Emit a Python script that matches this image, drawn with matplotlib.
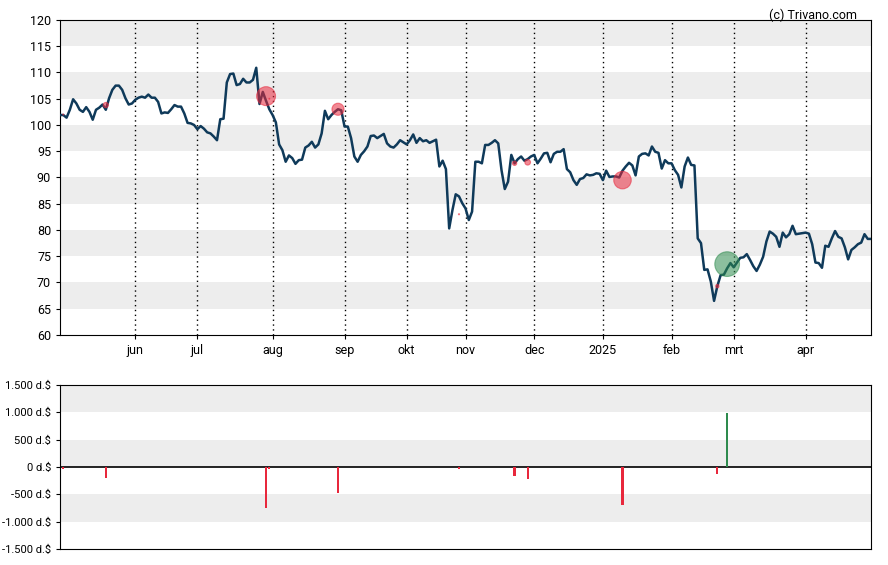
import matplotlib.pyplot as plt
import numpy as np

plt.rcParams['font.family'] = ['Roboto', 'DejaVu Sans']

#------------------------------------------ data -----------------------------------------------------------

prices = [
    101.9, 101.9, 101.4, 102.9, 104.9, 104.1, 102.9, 102.5, 103.4, 102.5,
    101.0, 102.9, 103.3, 103.9, 102.9, 105.1, 106.7, 107.5, 107.5, 106.7,
    105.1, 103.9, 104.1, 104.8, 105.2, 105.4, 105.2, 105.8, 105.2, 105.2,
    104.4, 102.2, 102.4, 102.3, 103.0, 103.8, 103.5, 103.5, 102.2, 100.4,
    100.3, 100.0, 99.2, 99.8, 99.3, 98.6, 98.4, 97.8, 97.1, 101.1,
    101.2, 108.1, 109.7, 109.8, 107.6, 107.8, 108.8, 108.1, 108.1, 108.6,
    110.9, 104.0, 106.3, 104.6, 103.0, 101.9, 100.5, 96.3, 95.2, 93.0,
    94.2, 93.7, 92.6, 93.3, 93.4, 95.7, 96.1, 96.8, 95.7, 96.3,
    98.4, 102.7, 101.1, 101.9, 102.5, 103.0, 102.8, 99.7, 99.7, 97.5,
    94.0, 93.0, 94.3, 95.0, 95.9, 97.9, 98.0, 97.5, 97.9, 98.3,
    96.5, 95.9, 95.7, 96.3, 97.1, 96.7, 96.3, 97.1, 98.2, 96.6,
    97.5, 96.9, 97.1, 96.6, 96.9, 97.2, 92.1, 93.2, 91.6, 80.3,
    83.8, 86.8, 86.4, 85.1, 84.1, 81.9, 83.5, 93.0, 93.0, 92.7,
    96.2, 96.2, 96.6, 97.1, 96.5, 91.4, 87.8, 89.2, 94.3, 92.7,
    93.5, 94.0, 93.2, 93.5, 94.0, 94.3, 92.7, 93.6, 94.6, 94.7,
    92.9, 94.5, 94.9, 94.9, 95.4, 91.6, 91.0, 89.5, 88.6, 89.7,
    89.9, 90.6, 90.4, 90.5, 90.8, 90.7, 89.5, 91.3, 90.1, 90.2,
    90.2, 90.0, 91.3, 92.1, 92.8, 92.3, 90.4, 94.0, 94.5, 94.6,
    94.2, 95.9, 94.9, 94.7, 91.7, 93.3, 92.7, 92.7, 91.4, 90.5,
    88.1, 92.1, 93.8, 92.4, 92.3, 78.4, 77.5, 72.4, 72.5, 70.2,
    66.5, 69.3, 71.4, 71.5, 72.7, 73.7, 72.9, 73.8, 74.7, 74.8,
    75.4, 74.3, 73.1, 72.2, 73.4, 74.9, 77.8, 79.7, 79.3, 78.7,
    76.8, 79.5, 78.6, 79.2, 80.8, 79.2, 79.3, 79.4, 79.5, 79.3,
    77.3, 73.8, 73.7, 72.8, 77.0, 76.8, 78.4, 79.8, 78.7, 78.4,
    76.7, 74.4, 76.2, 76.7, 77.3, 77.6, 79.2, 78.3, 78.3,
]

monthIndex = [23, 42, 65, 87, 106, 124, 145, 166, 187, 206, 228]
monthLabels = ["jun", "jul", "aug", "sep", "okt", "nov", "dec", "2025", "feb", "mrt", "apr"]

# insider trades: day index, trade price, value in thousands of dollars
tradeIndex = [1, 14, 63, 64, 85, 122, 139, 143, 172, 201, 204]
tradePrice = [102.0, 103.8, 105.5, 105.0, 103.0, 83.0, 92.7, 92.9, 89.5, 69.3, 73.5]
tradeValue = [-37, -208, -757, -37, -483, -44, -171, -226, -701, -134, 988]

#------------------------------------------ chart -----------------------------------------------------------

lineColor = "#0f3a5a"
red = "#e8283c"
green = "#2e8b4e"
band = "#ededed"

fig = plt.figure(figsize=(8.88, 5.65), dpi=100)
ax = fig.add_axes([0.0676, 0.4071, 0.9133, 0.5575])
ax2 = fig.add_axes([0.0676, 0.0283, 0.9133, 0.2903])

days = np.arange(len(prices))

for low in range(65, 120, 10):
    ax.axhspan(low, low + 5, color=band, zorder=0, lw=0)
for m in monthIndex:
    ax.axvline(m, color="black", lw=1, ls=(0, (1, 2.5)), zorder=1)

ax.plot(days, prices, color=lineColor, lw=1.8, zorder=3)

tradeColors = [green if v > 0 else red for v in tradeValue]
sizes = [(2 * abs(v) * 0.0125 * 0.72) ** 2 for v in tradeValue]
ax.scatter(tradeIndex, tradePrice, s=sizes, c=tradeColors, alpha=0.55, lw=0.8,
           edgecolors=tradeColors, zorder=4)

ax.set_xlim(0, len(prices) - 1)
ax.set_ylim(60, 120)
ax.set_yticks(range(60, 121, 5))
ax.set_xticks(monthIndex)
ax.set_xticklabels(monthLabels)
ax.tick_params(labelsize=9, length=3, color="black")
for s in ax.spines.values():
    s.set_color("black")

fig.text(0.965, 0.984, "(c) Trivano.com", ha="right", va="top", fontsize=9)

for low in [-1000, 0, 1000]:
    ax2.axhspan(low, low + 500, color=band, zorder=0, lw=0)
ax2.axhline(0, color="black", lw=1.2, zorder=2)
ax2.bar(tradeIndex, tradeValue, width=0.7, color=tradeColors, zorder=3)
ax2.set_xlim(0, len(prices) - 1)
ax2.set_ylim(-1500, 1500)
ax2.set_yticks(range(-1500, 1501, 500))
ax2.set_yticklabels([f"{v:,} d.$".replace(",", ".") for v in range(-1500, 1501, 500)])
ax2.set_xticks([])
ax2.tick_params(labelsize=8, length=3)

fig.savefig("out.png")
